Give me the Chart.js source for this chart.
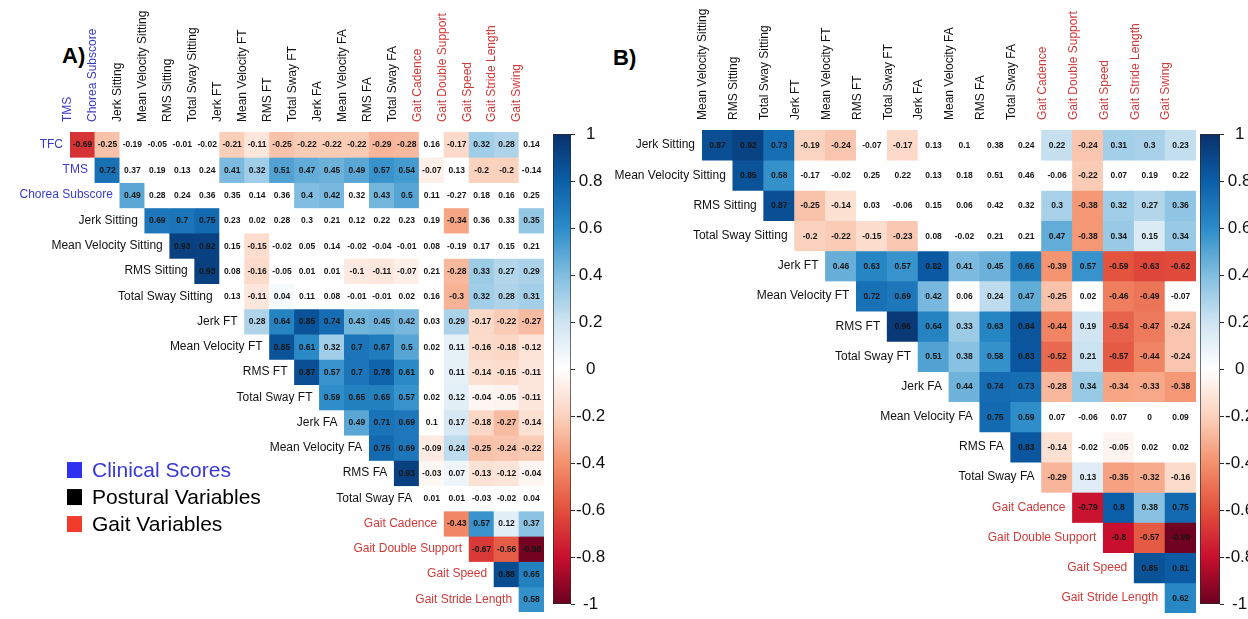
<!DOCTYPE html>
<html>
<head>
<meta charset="utf-8">
<script src="https://cdn.jsdelivr.net/npm/chart.js@4.4.1/dist/chart.umd.min.js"></script>
<style>
  body { margin: 0; background: #fff; width: 1248px; height: 619px; overflow: hidden; position: relative; }
  canvas { position: absolute; top: 0; }
  .tag { position: absolute; font: bold 22px Arial, "Liberation Sans", sans-serif; color: #000; }
</style>
</head>
<body>
<div class="tag" style="left:62px;top:43px">A)</div>
<div class="tag" style="left:613px;top:45px">B)</div>
<canvas id="heatA" width="548" height="619" style="left:0"></canvas>
<canvas id="barA" width="60" height="619" style="left:549px"></canvas>
<canvas id="heatB" width="597" height="619" style="left:600px"></canvas>
<canvas id="barB" width="52" height="619" style="left:1196px"></canvas>
<script>
// ---- panel A : all participants ----
const rowsA = ['TFC', 'TMS', 'Chorea Subscore', 'Jerk Sitting', 'Mean Velocity Sitting', 'RMS Sitting',
    'Total Sway Sitting', 'Jerk FT', 'Mean Velocity FT', 'RMS FT', 'Total Sway FT', 'Jerk FA',
    'Mean Velocity FA', 'RMS FA', 'Total Sway FA', 'Gait Cadence', 'Gait Double Support', 'Gait Speed',
    'Gait Stride Length'];
const colsA = ['TMS', 'Chorea Subscore', 'Jerk Sitting', 'Mean Velocity Sitting', 'RMS Sitting',
    'Total Sway Sitting', 'Jerk FT', 'Mean Velocity FT', 'RMS FT', 'Total Sway FT', 'Jerk FA',
    'Mean Velocity FA', 'RMS FA', 'Total Sway FA', 'Gait Cadence', 'Gait Double Support', 'Gait Speed',
    'Gait Stride Length', 'Gait Swing'];
// each row starts on the diagonal (row i -> columns i..end)
const corrA = [
    [-0.69, -0.25, -0.19, -0.05, -0.01, -0.02, -0.21, -0.11, -0.25, -0.22, -0.22, -0.22, -0.29, -0.28, 0.16, -0.17, 0.32, 0.28, 0.14],
    [0.72, 0.37, 0.19, 0.13, 0.24, 0.41, 0.32, 0.51, 0.47, 0.45, 0.49, 0.57, 0.54, -0.07, 0.13, -0.2, -0.2, -0.14],
    [0.49, 0.28, 0.24, 0.36, 0.35, 0.14, 0.36, 0.4, 0.42, 0.32, 0.43, 0.5, 0.11, -0.27, 0.18, 0.16, 0.25],
    [0.69, 0.7, 0.75, 0.23, 0.02, 0.28, 0.3, 0.21, 0.12, 0.22, 0.23, 0.19, -0.34, 0.36, 0.33, 0.35],
    [0.93, 0.92, 0.15, -0.15, -0.02, 0.05, 0.14, -0.02, -0.04, -0.01, 0.08, -0.19, 0.17, 0.15, 0.21],
    [0.93, 0.08, -0.16, -0.05, 0.01, 0.01, -0.1, -0.11, -0.07, 0.21, -0.28, 0.33, 0.27, 0.29],
    [0.13, -0.11, 0.04, 0.11, 0.08, -0.01, -0.01, 0.02, 0.16, -0.3, 0.32, 0.28, 0.31],
    [0.28, 0.64, 0.85, 0.74, 0.43, 0.45, 0.42, 0.03, 0.29, -0.17, -0.22, -0.27],
    [0.85, 0.61, 0.32, 0.7, 0.67, 0.5, 0.02, 0.11, -0.16, -0.18, -0.12],
    [0.87, 0.57, 0.7, 0.78, 0.61, 0, 0.11, -0.14, -0.15, -0.11],
    [0.59, 0.65, 0.65, 0.57, 0.02, 0.12, -0.04, -0.05, -0.11],
    [0.49, 0.71, 0.69, 0.1, 0.17, -0.18, -0.27, -0.14],
    [0.75, 0.69, -0.09, 0.24, -0.25, -0.24, -0.22],
    [0.93, -0.03, 0.07, -0.13, -0.12, -0.04],
    [0.01, 0.01, -0.03, -0.02, 0.04],
    [-0.43, 0.57, 0.12, 0.37],
    [-0.67, -0.56, -0.98],
    [0.88, 0.65],
    [0.58]
];
// 1 = significant (coloured), 0 = left white
const sigA = ['1100001111111101110', '100001111111110110', '10000001101100000', '1110000000001001',
    '110100000000000', '10100011101111', '0110000001111', '111111101111', '11111101111',
    '1111101111', '111101111', '11101111', '1111111', '111111', '00000', '1111', '111', '11', '1'];

// ---- panel B ----
const rowsB = ['Jerk Sitting', 'Mean Velocity Sitting', 'RMS Sitting', 'Total Sway Sitting', 'Jerk FT',
    'Mean Velocity FT', 'RMS FT', 'Total Sway FT', 'Jerk FA', 'Mean Velocity FA', 'RMS FA', 'Total Sway FA',
    'Gait Cadence', 'Gait Double Support', 'Gait Speed', 'Gait Stride Length'];
const colsB = ['Mean Velocity Sitting', 'RMS Sitting', 'Total Sway Sitting', 'Jerk FT', 'Mean Velocity FT',
    'RMS FT', 'Total Sway FT', 'Jerk FA', 'Mean Velocity FA', 'RMS FA', 'Total Sway FA', 'Gait Cadence',
    'Gait Double Support', 'Gait Speed', 'Gait Stride Length', 'Gait Swing'];
const corrB = [
    [0.87, 0.92, 0.73, -0.19, -0.24, -0.07, -0.17, 0.13, 0.1, 0.38, 0.24, 0.22, -0.24, 0.31, 0.3, 0.23],
    [0.85, 0.58, -0.17, -0.02, 0.25, 0.22, 0.13, 0.18, 0.51, 0.46, -0.06, -0.22, 0.07, 0.19, 0.22],
    [0.87, -0.25, -0.14, 0.03, -0.06, 0.15, 0.06, 0.42, 0.32, 0.3, -0.38, 0.32, 0.27, 0.36],
    [-0.2, -0.22, -0.15, -0.23, 0.08, -0.02, 0.21, 0.21, 0.47, -0.38, 0.34, 0.15, 0.34],
    [0.46, 0.63, 0.57, 0.82, 0.41, 0.45, 0.66, -0.39, 0.57, -0.59, -0.63, -0.62],
    [0.72, 0.69, 0.42, 0.06, 0.24, 0.47, -0.25, 0.02, -0.46, -0.49, -0.07],
    [0.96, 0.64, 0.33, 0.63, 0.84, -0.44, 0.19, -0.54, -0.47, -0.24],
    [0.51, 0.38, 0.58, 0.83, -0.52, 0.21, -0.57, -0.44, -0.24],
    [0.44, 0.74, 0.73, -0.28, 0.34, -0.34, -0.33, -0.38],
    [0.75, 0.59, 0.07, -0.06, 0.07, 0, 0.09],
    [0.83, -0.14, -0.02, -0.05, 0.02, 0.02],
    [-0.29, 0.13, -0.35, -0.32, -0.16],
    [-0.79, 0.8, 0.38, 0.75],
    [-0.8, -0.57, -0.99],
    [0.85, 0.81],
    [0.62]
];
const sigB = ['1111101000011111', '110000000001000', '11100000011111', '1111000011111', '111111111111',
    '11101110110', '1111111111', '111111111', '11111111', '1100000', '110100', '11111', '1111', '111', '11', '1'];

const cbTicks = [-1, -0.8, -0.6, -0.4, -0.2, 0, 0.2, 0.4, 0.6, 0.8, 1];
const clinical = ['TFC', 'TMS', 'Chorea Subscore'];
const legendItems = ['Clinical Scores', 'Postural Variables', 'Gait Variables'];

// colours
const BLUE_TXT = '#3b3bc6';
const RED_TXT = '#cf3a3a';
const FONT = "Arial, 'Liberation Sans', sans-serif";
const cmap = [
    [-1, '#6b0020'], [-0.8, '#c8102e'], [-0.6, '#e2503c'], [-0.4, '#f4916d'], [-0.2, '#fbd2be'],
    [0, '#ffffff'], [0.2, '#cfe4f1'], [0.4, '#80bde0'], [0.6, '#2b8cc8'], [0.8, '#0b5ea8'], [1, '#08306b']
];

function hexRgb(h) {
    return [1, 3, 5].map(i => parseInt(h.substr(i, 2), 16));
}
function colorAt(v) {
    for (let k = 0; k < cmap.length - 1; k++) {
        const [a, ca] = cmap[k], [b, cb] = cmap[k + 1];
        if (v >= a && v <= b) {
            const t = (v - a) / (b - a);
            const p = hexRgb(ca), q = hexRgb(cb);
            const c = p.map((x, i) => Math.round(x + (q[i] - x) * t));
            return `rgb(${c[0]},${c[1]},${c[2]})`;
        }
    }
    return '#fff';
}
function groupColor(name) {
    if (clinical.includes(name)) return BLUE_TXT;
    if (name.startsWith('Gait')) return RED_TXT;
    return '#111';
}

function makeHeat(id, rows, cols, corr, sig, lay) {
    const datasets = rows.map((r, i) => ({
        label: r,
        data: cols.map((c, j) => (j >= i ? [i - 0.5, i + 0.5] : null)),
        backgroundColor: cols.map((c, j) =>
            j >= i && sig[i][j - i] === '1' ? colorAt(corr[i][j - i]) : '#ffffff'),
        borderWidth: 0,
        inflateAmount: 0.4,
        grouped: false,
        barPercentage: 1,
        categoryPercentage: 1
    }));

    const labelsPlugin = {
        id: 'cellLabels',
        afterDatasetsDraw(chart) {
            const { ctx } = chart;
            const x = chart.scales.x, y = chart.scales.y;
            const w = x.getPixelForValue(1) - x.getPixelForValue(0);
            ctx.save();
            ctx.textAlign = 'center';
            ctx.textBaseline = 'middle';
            ctx.font = `bold ${lay.cellFont}px ${FONT}`;
            ctx.fillStyle = '#151515';
            corr.forEach((row, i) => row.forEach((v, k) => {
                ctx.fillText(String(v), x.getPixelForValue(i + k), y.getPixelForValue(i) + 0.5);
            }));
            // row names sit just left of the diagonal
            ctx.textAlign = 'right';
            ctx.font = `${lay.rowFont}px ${FONT}`;
            rows.forEach((r, i) => {
                ctx.fillStyle = groupColor(r);
                ctx.fillText(r, x.getPixelForValue(i) - w / 2 - 7, y.getPixelForValue(i));
            });
            if (lay.legend) {
                const lx = chart.chartArea.left - 3;
                const ly = y.getPixelForValue(13) - 3;
                const sq = [ '#2f2ff2', '#000000', '#f23b2b' ];
                ctx.textAlign = 'left';
                ctx.font = `21px ${FONT}`;
                legendItems.forEach((t, k) => {
                    const cy = ly + k * 27;
                    ctx.fillStyle = sq[k];
                    ctx.fillRect(lx, cy - 8, 15, 16);
                    ctx.fillStyle = k === 0 ? '#3838d8' : '#000';
                    ctx.fillText(t, lx + 25, cy + 1);
                });
            }
            ctx.restore();
        }
    };

    return new Chart(document.getElementById(id), {
        type: 'bar',
        data: { labels: cols, datasets },
        plugins: [labelsPlugin],
        options: {
            responsive: false,
            animation: false,
            layout: { padding: lay.padding },
            plugins: { legend: { display: false }, tooltip: { enabled: false } },
            scales: {
                x: {
                    type: 'category',
                    position: 'top',
                    offset: true,
                    grid: { display: false, drawTicks: false },
                    border: { display: false },
                    ticks: {
                        autoSkip: false,
                        minRotation: 90,
                        maxRotation: 90,
                        padding: 10,
                        font: { size: 12, family: FONT },
                        color: c => groupColor(cols[c.index])
                    },
                    afterFit: s => { s.height = lay.axisH; }
                },
                y: {
                    type: 'linear',
                    reverse: true,
                    min: -0.5,
                    max: rows.length - 0.5,
                    display: false
                }
            }
        }
    });
}

function makeBar(id, lay) {
    return new Chart(document.getElementById(id), {
        type: 'bar',
        data: {
            labels: ['r'],
            datasets: [{
                data: [[-1, 1]],
                backgroundColor: c => {
                    const ch = c.chart;
                    if (!ch.chartArea) return null;
                    const ys = ch.scales.y;
                    const g = ch.ctx.createLinearGradient(0, ys.getPixelForValue(-1), 0, ys.getPixelForValue(1));
                    cmap.forEach(([v, col]) => g.addColorStop((v + 1) / 2, col));
                    return g;
                },
                borderColor: '#2a2a2a',
                borderWidth: 1,
                borderSkipped: false,
                barPercentage: 1,
                categoryPercentage: 1
            }]
        },
        options: {
            responsive: false,
            animation: false,
            layout: { padding: lay.padding },
            plugins: { legend: { display: false }, tooltip: { enabled: false } },
            scales: {
                x: { display: false },
                y: {
                    position: 'right',
                    min: -1,
                    max: 1,
                    afterBuildTicks: s => { s.ticks = cbTicks.map(v => ({ value: v })); },
                    grid: { drawOnChartArea: false, tickLength: 4, color: '#2a2a2a' },
                    border: { display: false },
                    ticks: {
                        padding: 1,
                        crossAlign: 'center',
                        font: { size: 17, family: FONT },
                        color: '#111',
                        callback: v => String(v)
                    },
                    afterFit: s => { s.width = lay.axisW; }
                }
            }
        }
    });
}

makeHeat('heatA', rowsA, colsA, corrA, sigA, {
    padding: { left: 70, right: 4, top: 8, bottom: 7 }, axisH: 124, cellFont: 8.5, rowFont: 12, legend: true
});
makeHeat('heatB', rowsB, colsB, corrB, sigB, {
    padding: { left: 102, right: 1, top: 8, bottom: 6 }, axisH: 122, cellFont: 8.5, rowFont: 12, legend: false
});
makeBar('barA', { padding: { left: 4, right: 0, top: 134, bottom: 15 }, axisW: 38 });
makeBar('barB', { padding: { left: 4, right: 0, top: 134, bottom: 15 }, axisW: 28 });
</script>
</body>
</html>
